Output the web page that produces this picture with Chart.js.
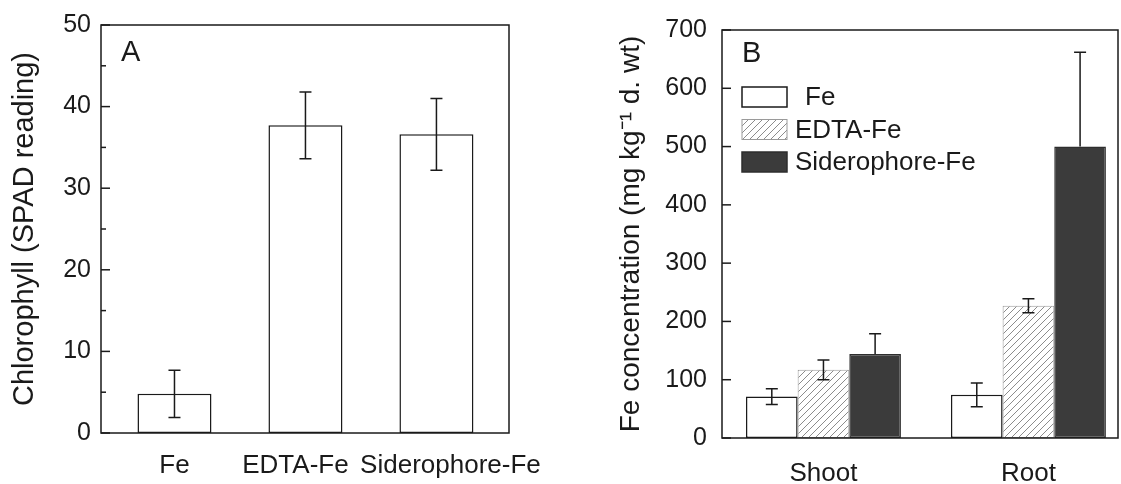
<!DOCTYPE html>
<html><head><meta charset="utf-8">
<script src="https://cdn.jsdelivr.net/npm/chart.js@4.4.1/dist/chart.umd.min.js"></script>
<style>
html,body{margin:0;padding:0;background:#fff;overflow:hidden;}
#wrap{position:relative;width:1121px;height:484px;background:#fff;}
canvas{position:absolute;top:0;}
#cA{left:0;} #cB{left:560px;}
</style></head><body>
<div id="wrap"><canvas id="cA" width="560" height="484"></canvas><canvas id="cB" width="561" height="484"></canvas></div>
<script>
// ---------- Panel A data ----------
const treatmentsA = ['Fe', 'EDTA-Fe', 'Siderophore-Fe'];
const chlorophyll = [4.8, 37.7, 36.6];
const chlorophyllErr = [2.9, 4.1, 4.4];
const yTickLabelsA = [0, 10, 20, 30, 40, 50];

// ---------- Panel B data ----------
const tissues = ['Shoot', 'Root'];
const seriesNamesB = ['Fe', 'EDTA-Fe', 'Siderophore-Fe'];
const feConc = [71, 74];
const feConcErr = [13.5, 20.5];
const edtaConc = [117, 227];
const edtaConcErr = [17, 12];
const sidConc = [144, 500];
const sidConcErr = [35, 162];
const yTickLabelsB = [0, 100, 200, 300, 400, 500, 600, 700];

const FONT = "'Liberation Sans', Arial, Helvetica, sans-serif";
const INK = '#1a1a1a';

function hatchPattern(ctx) {
  const s = 7;
  const c = document.createElement('canvas'); c.width = s; c.height = s;
  const g = c.getContext('2d');
  g.fillStyle = '#ffffff'; g.fillRect(0, 0, s, s);
  g.strokeStyle = '#8c8c8c'; g.lineWidth = 1;
  g.beginPath();
  g.moveTo(0, s); g.lineTo(s, 0);
  g.moveTo(-1, 1); g.lineTo(1, -1);
  g.moveTo(s - 1, s + 1); g.lineTo(s + 1, s - 1);
  g.stroke();
  return ctx.createPattern(c, 'repeat');
}

// Custom plugin: label nudges, frame, inward ticks, error bars, panel letter, legend
const decor = {
  id: 'decor',
  beforeDraw(chart, args, o) {
    if (!o.labelShift) return;
    const xs = chart.scales.x;
    const items = xs.getLabelItems(chart.chartArea);
    items.forEach((it, i) => {
      if (it._shifted) return;
      it.options.translation[0] += (o.labelShift[i] || 0);
      it._shifted = true;
    });
  },
  afterDatasetsDraw(chart, args, o) {
    const ctx = chart.ctx, ys = chart.scales.y;
    ctx.save();
    ctx.strokeStyle = INK; ctx.lineWidth = 1.5;
    chart.data.datasets.forEach((ds, i) => {
      const meta = chart.getDatasetMeta(i);
      meta.data.forEach((el, j) => {
        const v = ds.data[j].y, e = ds.errors[j];
        const yt = ys.getPixelForValue(v + e);
        const yb = ds.errUpOnly ? el.y : ys.getPixelForValue(v - e);
        const cap = 6;
        ctx.beginPath();
        ctx.moveTo(el.x, yb); ctx.lineTo(el.x, yt);
        ctx.moveTo(el.x - cap, yt); ctx.lineTo(el.x + cap, yt);
        if (!ds.errUpOnly) { ctx.moveTo(el.x - cap, yb); ctx.lineTo(el.x + cap, yb); }
        ctx.stroke();
      });
    });
    ctx.restore();
  },
  afterDraw(chart, args, o) {
    const ctx = chart.ctx, a = chart.chartArea, ys = chart.scales.y;
    ctx.save();
    ctx.strokeStyle = INK; ctx.lineWidth = 1.5;
    ctx.strokeRect(a.left, a.top, a.right - a.left, a.bottom - a.top);
    ys.ticks.forEach(t => {
      const y = ys.getPixelForValue(t.value);
      const len = t.label !== '' ? 9 : 5;
      ctx.beginPath(); ctx.moveTo(a.left, y); ctx.lineTo(a.left + len, y); ctx.stroke();
    });
    ctx.fillStyle = INK;
    ctx.font = '29px ' + FONT;
    ctx.textBaseline = 'alphabetic'; ctx.textAlign = 'left';
    ctx.fillText(o.letter, o.letterX, o.letterY);
    if (o.legend) {
      const L = o.legend;
      ctx.font = L.size + 'px ' + FONT;
      ctx.textBaseline = 'middle';
      chart.data.datasets.forEach((ds, i) => {
        const cy = L.y0 + i * L.dy;
        ctx.fillStyle = ds.backgroundColor;
        ctx.fillRect(L.x, cy - L.h / 2, L.w, L.h);
        ctx.strokeStyle = ds.borderColor; ctx.lineWidth = ds.borderWidth;
        ctx.strokeRect(L.x, cy - L.h / 2, L.w, L.h);
        ctx.fillStyle = INK;
        ctx.fillText(ds.label, L.tx + (i === 0 ? 10 : 0), cy + 1);
      });
    }
    ctx.restore();
  }
};

function makeOptions(cfg) {
  return {
    responsive: false,
    animation: false,
    devicePixelRatio: 1,
    layout: { padding: { left: 0, right: cfg.padRight, top: cfg.padTop, bottom: 0 } },
    plugins: { legend: { display: false }, tooltip: { enabled: false }, decor: cfg.decor },
    scales: {
      x: {
        type: 'linear', min: cfg.xMin, max: cfg.xMax, offset: false,
        grid: { display: false, drawTicks: false },
        border: { display: false },
        afterBuildTicks: (s) => { s.ticks = cfg.cats.map((_, i) => ({ value: i })); },
        afterFit: (s) => { s.height = cfg.xHeight; },
        ticks: {
          autoSkip: false, maxRotation: 0, padding: cfg.xPad, color: INK,
          font: { family: FONT, size: 26 },
          callback: (v) => cfg.cats[v] ?? ''
        }
      },
      y: {
        min: cfg.yMin, max: cfg.yMax,
        grid: { display: false, drawTicks: false },
        border: { display: false },
        afterFit: (s) => { s.width = cfg.yWidth; },
        ticks: {
          stepSize: cfg.step, padding: cfg.yPad, color: INK,
          font: { family: FONT, size: 25 },
          callback: (v) => cfg.yLabels.includes(v) ? String(v) : ''
        },
        title: {
          display: true, text: cfg.yTitle, color: INK,
          font: { family: FONT, size: cfg.titleSize },
          padding: { top: cfg.titlePad, bottom: 0 }
        }
      }
    }
  };
}

// ---------- Chart A ----------
new Chart(document.getElementById('cA'), {
  type: 'bar',
  data: {
    datasets: [{
      label: 'Chlorophyll',
      data: chlorophyll.map((v, i) => ({ x: i, y: v })),
      errors: chlorophyllErr,
      backgroundColor: '#ffffff', borderColor: INK, borderWidth: 1.5, borderSkipped: false,
      categoryPercentage: 0.565, barPercentage: 1
    }]
  },
  options: makeOptions({
    cats: treatmentsA, xMin: -0.561, xMax: 2.554, xHeight: 51, xPad: 17,
    yMin: 0, yMax: 50, step: 5, yLabels: yTickLabelsA, yWidth: 101, yPad: 10,
    yTitle: 'Chlorophyll (SPAD reading)', titleSize: 29, titlePad: 8,
    padRight: 51, padTop: 25,
    decor: { letter: 'A', letterX: 121, letterY: 61, labelShift: [0, -10, 14] }
  }),
  plugins: [decor]
});

// ---------- Chart B ----------
const ctxB = document.getElementById('cB').getContext('2d');
const hatch = hatchPattern(ctxB);
const valuesB = [feConc, edtaConc, sidConc];
const errorsB = [feConcErr, edtaConcErr, sidConcErr];
const fillsB = ['#ffffff', hatch, '#3b3b3b'];
const bordersB = [INK, '#9a9a9a', '#2e2e2e'];
new Chart(ctxB, {
  type: 'bar',
  data: {
    datasets: seriesNamesB.map((name, k) => ({
      label: name,
      data: valuesB[k].map((v, i) => ({ x: i, y: v })),
      errors: errorsB[k],
      errUpOnly: k === 2,
      backgroundColor: fillsB[k], borderColor: bordersB[k],
      borderWidth: k === 1 ? 1 : 1.5, borderSkipped: false,
      categoryPercentage: 0.756, barPercentage: 1
    }))
  },
  options: makeOptions({
    cats: tissues, xMin: -0.495, xMax: 1.437, xHeight: 46, xPad: 20,
    yMin: 0, yMax: 700, step: 50, yLabels: yTickLabelsB, yWidth: 162, yPad: 15,
    yTitle: 'Fe concentration (mg kg\u207B\u00B9 d. wt)', titleSize: 28, titlePad: 54,
    padRight: 3, padTop: 28,
    decor: {
      letter: 'B', letterX: 182, letterY: 62,
      legend: { x: 182, w: 45, h: 20, y0: 97, dy: 32.5, tx: 235, size: 26 }
    }
  }),
  plugins: [decor]
});
</script>
</body></html>
